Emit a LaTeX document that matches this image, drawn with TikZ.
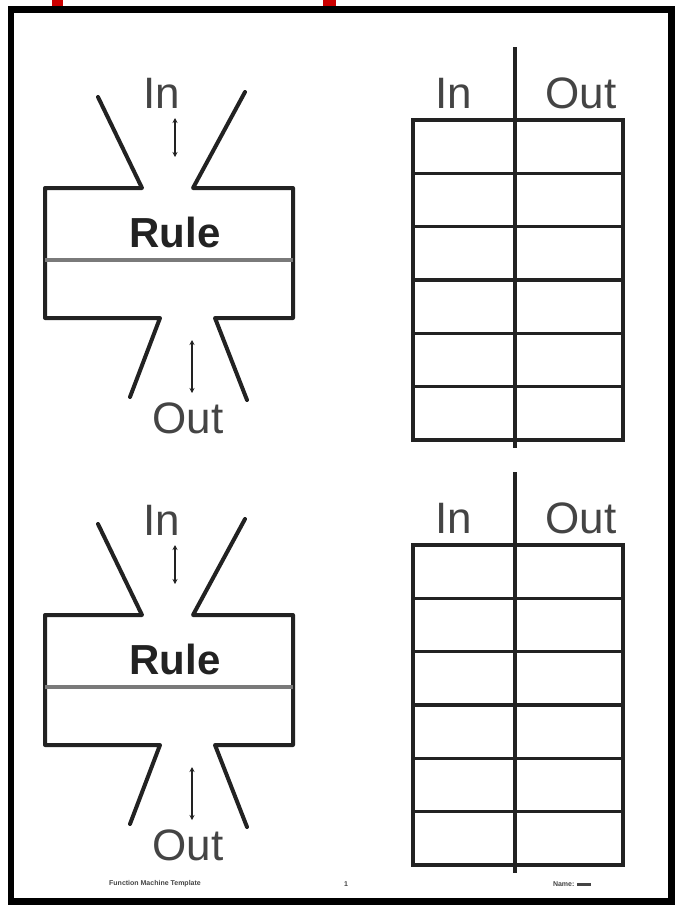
\documentclass[tikz,border=0pt]{standalone}
\usepackage{fontspec}
\setmainfont{Liberation Sans}
\usetikzlibrary{arrows.meta}
\definecolor{lnblack}{HTML}{222222}
\definecolor{midgray}{HTML}{7A7A7A}
\definecolor{txtgray}{HTML}{444444}
\tikzset{
  ln/.style={draw=lnblack, line width=4pt, line join=round, line cap=round},
  midln/.style={draw=midgray, line width=4pt},
  tabln/.style={draw=lnblack, line width=3.6pt, line cap=butt},
  dblarrow/.style={draw=lnblack, line width=1.8pt, {Stealth[length=5pt,width=5pt]}-{Stealth[length=5pt,width=5pt]}},
  lbl/.style={inner sep=0pt, text=txtgray, font=\fontsize{44}{44}\selectfont},
  rulelbl/.style={inner sep=0pt, text=lnblack, font=\fontsize{42}{42}\selectfont\bfseries},
  foot/.style={inner sep=0pt, text=txtgray, font=\fontsize{7}{7}\selectfont\bfseries},
}
\newcommand\drawmachine[2]{%
  \begin{scope}[shift={(0,#1)}]
    \draw[ln] (98,97) -- (142,188) -- (45,188) -- (45,318) -- (160,318) -- (130,397);
    \draw[ln] (245,92) -- (193,188) -- (293,188) -- (293,318) -- (215,318) -- (247,400);
    \draw[midln] (45,260) -- (293,260);
    \node[lbl] (in#2) at (162,93) {In};
    \node[rulelbl] (rule#2) at (175,232) {Rule};
    \node[lbl] (out#2) at (188,418) {Out};
    \coordinate (ina#2) at (175,118);
    \coordinate (inb#2) at (175,157);
    \coordinate (outa#2) at (192,340);
    \coordinate (outb#2) at (192,393);
    \draw[dblarrow] (ina#2) -- (inb#2);
    \draw[dblarrow] (outa#2) -- (outb#2);
  \end{scope}}
\newcommand\drawiotable[2]{%
  \begin{scope}[shift={(0,#1)}]
    \draw[tabln, line join=miter] (413,120) rectangle (623,440);
    \foreach \k in {1,...,5} {
      \draw[tabln] (413,{120+53.33*\k}) -- (623,{120+53.33*\k});
    }
    \coordinate (vt#2) at (515,47);
    \coordinate (vb#2) at (515,448);
    \draw[tabln] (vt#2) -- (vb#2);
    \node[lbl] (hin#2) at (454,93) {In};
    \node[lbl] (hout#2) at (581,93) {Out};
  \end{scope}}
\begin{document}
\begin{tikzpicture}[x=1pt,y=-1pt]
  \useasboundingbox (0,0) rectangle (675,905);
  \fill[white] (0,0) rectangle (675,905);
  \fill[red!80!black] (52,0) rectangle (63,7);
  \fill[red!80!black] (323,0) rectangle (336,7);
  \draw[black, line width=6.5pt] (11,9.5) rectangle (671.5,901.5);
  \drawmachine{0}{A}
  \drawmachine{427}{B}
  \drawiotable{0}{A}
  \drawiotable{425}{B}
  \node[foot] (fl) at (155,884) {Function Machine Template};
  \node[foot] (fm) at (346,884) {1};
  \node[foot] (fr) at (572,884) {Name: \rule{14pt}{3pt}};
\end{tikzpicture}
\end{document}
